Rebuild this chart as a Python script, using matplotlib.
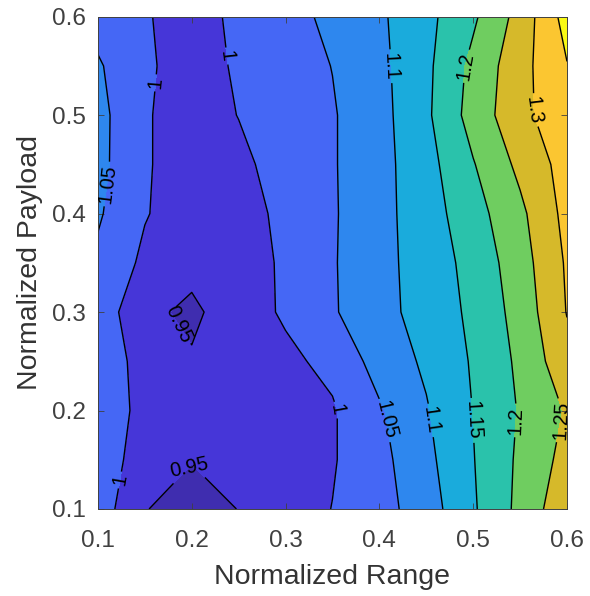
import numpy as np
import matplotlib
matplotlib.use("Agg")
import matplotlib.pyplot as plt

# grid (normalized range / payload)
x_range = [0.10, 0.15, 0.20, 0.25, 0.30, 0.35, 0.40, 0.45, 0.50, 0.55, 0.60]
y_payload = [0.10, 0.15, 0.20, 0.25, 0.30, 0.35, 0.40, 0.45, 0.50, 0.55, 0.60]

# values, one row per payload value
z_y010 = [1.027, 0.952, 0.930, 0.951, 0.975, 1.001, 1.031, 1.076, 1.144, 1.213, 1.287]
z_y015 = [1.012, 0.990, 0.952, 0.955, 0.975, 0.996, 1.035, 1.087, 1.148, 1.209, 1.267]
z_y020 = [1.015, 0.993, 0.960, 0.965, 0.980, 0.995, 1.044, 1.096, 1.151, 1.204, 1.255]
z_y025 = [1.020, 0.988, 0.955, 0.965, 0.990, 1.012, 1.070, 1.108, 1.155, 1.210, 1.284]
z_y030 = [1.030, 0.962, 0.940, 0.978, 1.006, 1.045, 1.083, 1.120, 1.160, 1.219, 1.302]
z_y035 = [1.040, 0.990, 0.965, 0.975, 1.008, 1.046, 1.084, 1.123, 1.166, 1.228, 1.306]
z_y040 = [1.056, 1.003, 0.975, 0.980, 1.012, 1.045, 1.084, 1.127, 1.180, 1.239, 1.315]
z_y045 = [1.065, 1.004, 0.980, 0.990, 1.018, 1.046, 1.083, 1.132, 1.197, 1.262, 1.320]
z_y050 = [1.066, 1.004, 0.980, 1.001, 1.024, 1.046, 1.083, 1.141, 1.220, 1.285, 1.335]
z_y055 = [1.056, 1.006, 0.983, 1.005, 1.028, 1.051, 1.087, 1.139, 1.213, 1.282, 1.348]
z_y060 = [1.030, 1.003, 0.985, 1.008, 1.033, 1.061, 1.092, 1.136, 1.192, 1.268, 1.370]

levels = [0.90, 0.95, 1.00, 1.05, 1.10, 1.15, 1.20, 1.25, 1.30, 1.35, 1.40]

X, Y = np.meshgrid(x_range, y_payload)
Z = np.array([z_y010, z_y015, z_y020, z_y025, z_y030, z_y035,
              z_y040, z_y045, z_y050, z_y055, z_y060])

# parula-like band colours
band_colors = ['#3f2daf', '#4636d8', '#4567f5', '#2e87ee', '#1aabdc',
               '#2ac2ab', '#6fcd60', '#d6b92a', '#fbc631', '#f9fa14']

plt.rcParams['font.family'] = ['Liberation Sans', 'DejaVu Sans']

fig = plt.figure(figsize=(5.9, 5.96), dpi=100)
ax = fig.add_axes([0.166, 0.146, 0.795, 0.826])

ax.contourf(X, Y, Z, levels=levels, colors=band_colors)
cs = ax.contour(X, Y, Z, levels=levels[1:-1], colors='black', linewidths=1.0)

label_spots = [(0.135, 0.535), (0.237, 0.56), (0.11, 0.43), (0.42, 0.55),
               (0.49, 0.55), (0.562, 0.505), (0.19, 0.29), (0.2, 0.14),
               (0.12, 0.13), (0.353, 0.2), (0.405, 0.19), (0.455, 0.19),
               (0.5, 0.19), (0.545, 0.19), (0.595, 0.19)]
ax.clabel(cs, fmt='%g', fontsize=14.5, inline=True, inline_spacing=3,
          manual=label_spots)

ax.set_xlim(0.1, 0.6)
ax.set_ylim(0.1, 0.6)
ax.set_xticks([0.1, 0.2, 0.3, 0.4, 0.5, 0.6])
ax.set_yticks([0.1, 0.2, 0.3, 0.4, 0.5, 0.6])
ax.set_xticklabels(['0.1', '0.2', '0.3', '0.4', '0.5', '0.6'])
ax.set_yticklabels(['0.1', '0.2', '0.3', '0.4', '0.5', '0.6'])
ax.tick_params(direction='in', length=4, width=0.6, colors='#404040',
               labelsize=17.5, top=True, right=True)
ax.tick_params(axis='x', pad=15)
ax.tick_params(axis='y', pad=9)
for side in ax.spines.values():
    side.set_color('#404040')
    side.set_linewidth(0.7)

ax.set_xlabel("Normalized Range", fontsize=20.5, color='#333333', labelpad=9)
ax.set_ylabel("Normalized Payload", fontsize=20.5, color='#333333', labelpad=6)

plt.savefig("out.png", dpi=100)
